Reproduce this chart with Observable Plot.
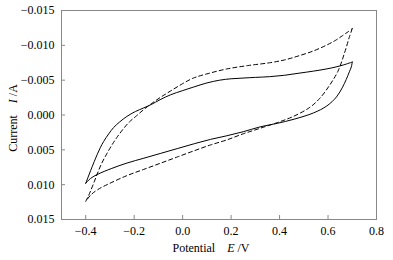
<!DOCTYPE html>
<html><head><meta charset="utf-8">
<script src="https://cdn.jsdelivr.net/npm/d3@7"></script>
<script src="https://cdn.jsdelivr.net/npm/@observablehq/plot@0.6"></script>
<style>body{margin:0;background:#fff}</style>
</head><body><div id="chart"></div>
<script>
// Tick values
const xTicks = [-0.4, -0.2, 0.0, 0.2, 0.4, 0.6, 0.8];
const yTicks = [-0.015, -0.010, -0.005, 0.000, 0.005, 0.010, 0.015];

// Solid curve: forward (anodic) branch and return branch
const solidFwdE = [-0.40, -0.39, -0.38, -0.365, -0.353, -0.34, -0.326, -0.305, -0.285, -0.26, -0.23, -0.195, -0.162, -0.13, -0.093, -0.05, 0.0, 0.044, 0.10, 0.153, 0.20, 0.249, 0.30, 0.359, 0.42, 0.48, 0.54, 0.592, 0.633, 0.665, 0.70];
const solidFwdI = [0.0098, 0.0089, 0.0080, 0.0067, 0.0057, 0.0047, 0.0038, 0.0027, 0.0018, 0.0010, 0.0002, -0.0005, -0.0010, -0.0015, -0.0022, -0.0029, -0.0035, -0.0040, -0.0046, -0.0050, -0.0052, -0.0053, -0.0054, -0.0055, -0.0057, -0.0060, -0.0063, -0.0066, -0.0069, -0.0072, -0.0076];
const solidRevE = [0.70, 0.696, 0.688, 0.675, 0.66, 0.635, 0.595, 0.54, 0.46, 0.39, 0.32, 0.25, 0.18, 0.115, 0.05, -0.02, -0.09, -0.16, -0.23, -0.295, -0.35, -0.38, -0.40];
const solidRevI = [-0.0076, -0.0069, -0.0062, -0.0051, -0.0040, -0.0026, -0.0013, -0.0003, 0.0006, 0.0012, 0.0017, 0.0024, 0.0030, 0.0035, 0.0041, 0.0048, 0.0055, 0.0062, 0.0069, 0.0077, 0.0085, 0.0091, 0.0098];

// Dashed curve: forward branch and return branch
const dashFwdE = [-0.40, -0.39, -0.38, -0.365, -0.353, -0.335, -0.312, -0.29, -0.271, -0.245, -0.22, -0.19, -0.16, -0.13, -0.093, -0.052, 0.0, 0.044, 0.10, 0.181, 0.27, 0.359, 0.42, 0.48, 0.54, 0.592, 0.63, 0.66, 0.685, 0.70];
const dashFwdI = [0.0124, 0.0117, 0.0109, 0.0096, 0.0085, 0.0070, 0.0055, 0.0042, 0.0032, 0.0020, 0.0010, 0.0001, -0.0008, -0.0016, -0.0025, -0.0034, -0.0045, -0.0053, -0.0059, -0.0066, -0.0071, -0.0075, -0.0079, -0.0085, -0.0092, -0.0100, -0.0107, -0.0114, -0.0120, -0.0124];
const dashRevE = [0.70, 0.689, 0.668, 0.641, 0.607, 0.566, 0.525, 0.457, 0.39, 0.32, 0.25, 0.18, 0.115, 0.05, -0.02, -0.09, -0.16, -0.23, -0.30, -0.35, -0.38, -0.40];
const dashRevI = [-0.0124, -0.0113, -0.0089, -0.0063, -0.0043, -0.0024, -0.0011, 0.0002, 0.0011, 0.0019, 0.0027, 0.0036, 0.0043, 0.0051, 0.0060, 0.0069, 0.0078, 0.0087, 0.0098, 0.0107, 0.0115, 0.0124];

const rows = [];
function add(E, I, series, branch) {
  E.forEach((e, i) => rows.push({E: e, I: I[i], series, key: series + "-" + branch}));
}
add(solidFwdE, solidFwdI, "solid", "f");
add(solidRevE, solidRevI, "solid", "r");
add(dashFwdE, dashFwdI, "dash", "f");
add(dashRevE, dashRevI, "dash", "r");

const plot = Plot.plot({
  width: 393, height: 260,
  marginLeft: 61, marginRight: 17, marginTop: 10, marginBottom: 41,
  style: {fontFamily: "'Liberation Serif', 'Times New Roman', serif", fontSize: "12px", color: "#000", background: "#fff"},
  x: {domain: [-0.5, 0.8]},
  y: {domain: [-0.015, 0.015], reverse: true},
  marks: [
    Plot.axisX({ticks: xTicks, tickSize: -4, tickPadding: 11, tickFormat: d3.format(".1f"), label: null, stroke: "#888", fill: "#000"}),
    Plot.axisY({ticks: yTicks, tickSize: -4, tickPadding: 11, tickFormat: d3.format(".3f"), label: null, stroke: "#888", fill: "#000"}),
    Plot.frame({stroke: "#888", strokeWidth: 1}),
    Plot.line(rows.filter(d => d.series === "solid"), {x: "E", y: "I", z: "key", curve: "catmull-rom", stroke: "#000", strokeWidth: 1}),
    Plot.line(rows.filter(d => d.series === "dash"), {x: "E", y: "I", z: "key", curve: "catmull-rom", stroke: "#000", strokeWidth: 1, strokeDasharray: "4,3"})
  ]
});
document.getElementById("chart").appendChild(plot);

const svg = d3.select(plot);
const xl = svg.append("text").attr("x", 211).attr("y", 252)
  .attr("text-anchor", "middle").attr("fill", "#000")
  .style("font-family", "'Liberation Serif', serif").style("font-size", "12px");
xl.append("tspan").text("Potential\u2003");
xl.append("tspan").attr("font-style", "italic").text("E");
xl.append("tspan").text(" /V");

const yl = svg.append("text").attr("transform", "translate(17,118) rotate(-90)")
  .attr("text-anchor", "middle").attr("fill", "#000")
  .style("font-family", "'Liberation Serif', serif").style("font-size", "12px");
yl.append("tspan").text("Current\u2003");
yl.append("tspan").attr("font-style", "italic").text("I");
yl.append("tspan").text(" /A");
</script>
</body></html>
